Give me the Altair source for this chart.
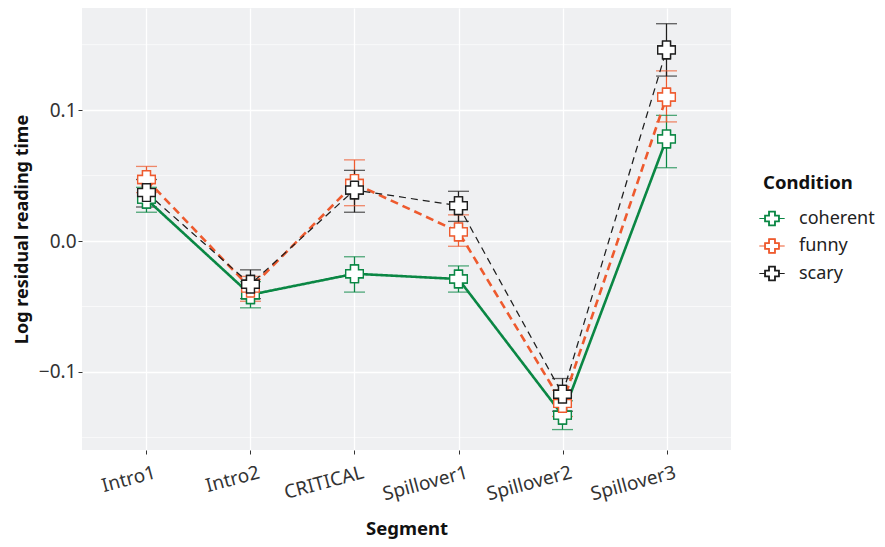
import altair as alt
import pandas as pd

segments = ["Intro1", "Intro2", "CRITICAL", "Spillover1", "Spillover2", "Spillover3"]
conditions = ["coherent", "funny", "scary"]

coherent_mean = [0.032, -0.041, -0.025, -0.029, -0.133, 0.078]
coherent_lo = [0.022, -0.051, -0.039, -0.039, -0.144, 0.056]
coherent_hi = [0.041, -0.031, -0.012, -0.019, -0.122, 0.096]

funny_mean = [0.047, -0.036, 0.044, 0.007, -0.124, 0.110]
funny_lo = [0.037, -0.046, 0.027, -0.004, -0.134, 0.091]
funny_hi = [0.057, -0.027, 0.062, 0.020, -0.114, 0.130]

scary_mean = [0.037, -0.033, 0.039, 0.027, -0.117, 0.146]
scary_lo = [0.026, -0.044, 0.022, 0.015, -0.130, 0.126]
scary_hi = [0.047, -0.022, 0.054, 0.038, -0.105, 0.166]

y_major = [-0.1, 0.0, 0.1]
y_minor = [-0.15, -0.05, 0.05, 0.15]

rows = []
for cond, m, lo, hi in [
    ("coherent", coherent_mean, coherent_lo, coherent_hi),
    ("funny", funny_mean, funny_lo, funny_hi),
    ("scary", scary_mean, scary_lo, scary_hi),
]:
    for s, a, b, c in zip(segments, m, lo, hi):
        rows.append({"Segment": s, "Condition": cond, "mean": a, "lo": b, "hi": c})
df = pd.DataFrame(rows)

FONT = "Noto Sans"
colors = ["#0A8744", "#EE5A2E", "#1E1E1E"]
plus_path = "M-0.45,-1H0.45V-0.45H1V0.45H0.45V1H-0.45V0.45H-1V-0.45H-0.45Z"
# legend key: line through an outlined plus (outer outline + reversed inner outline leaves a hollow centre)
legend_path = (
    "M-1.75,0H-1M1,0H1.75"
    "M-0.45,-1H0.45V-0.45H1V0.45H0.45V1H-0.45V0.45H-1V-0.45H-0.45Z"
    "M-0.37,-0.92V-0.37H-0.92V0.37H-0.37V0.92H0.37V0.37H0.92V-0.37H0.37V-0.92Z"
)

ydom = [-0.1596, 0.178]

x_enc = alt.X(
    "Segment:N",
    sort=segments,
    scale=alt.Scale(type="point", padding=0.62),
    axis=alt.Axis(
        title="Segment",
        labelAngle=345,
        labelAlign="right",
        labelBaseline="top",
        labelPadding=9,
        labelOffset=6,
        labelFontSize=19,
        labelColor="#333333",
        tickColor="#333333",
        tickSize=4,
        domain=False,
        grid=True,
        gridColor="white",
        gridWidth=1.3,
        titleFontSize=18.5,
        titleFontWeight="bold",
        titleColor="#111111",
        titlePadding=16,
    ),
)
y_scale = alt.Scale(domain=ydom, nice=False, zero=False)
stroke_scale = alt.Scale(domain=conditions, range=colors)
stroke_enc = alt.Stroke(
    "Condition:N",
    scale=stroke_scale,
    legend=alt.Legend(
        title="Condition",
        orient="none",
        legendX=681,
        legendY=166,
        titleFontSize=18.5,
        titleFontWeight="bold",
        titleColor="#111111",
        titlePadding=17,
        labelFontSize=18,
        labelColor="#222222",
        labelOffset=18,
        labelLimit=200,
        symbolType=legend_path,
        symbolSize=210,
        symbolStrokeWidth=1.2,
        symbolOpacity=1,
        rowPadding=7.5,
    ),
)

panel = alt.Chart(pd.DataFrame({"v": y_minor})).mark_rule(color="white", strokeWidth=0.6).encode(
    y=alt.Y("v:Q", scale=y_scale,
            axis=alt.Axis(
                title="Log residual reading time",
                values=y_major,
                format=".1f",
                labelFontSize=19,
                labelColor="#333333",
                tickColor="#333333",
                tickSize=4,
                domain=False,
                grid=True,
                gridColor="white",
                gridWidth=1.3,
                titleFontSize=18,
                titleFontWeight="bold",
                titleColor="#111111",
                titlePadding=7,
            ))
)

base = alt.Chart(df)

def point_layer():
    return base.mark_point(shape=plus_path, size=310, filled=False, fill="white", fillOpacity=1,
                           opacity=1, strokeWidth=1.4).encode(
        x=x_enc,
        y=alt.Y("mean:Q", scale=y_scale),
        stroke=stroke_enc,
    )

points_under = point_layer()

bars = base.mark_rule(strokeWidth=1.3).encode(
    x=x_enc,
    y=alt.Y("lo:Q", scale=y_scale),
    y2="hi:Q",
    stroke=stroke_enc,
)
caps_lo = base.mark_tick(orient="horizontal", size=21, thickness=1.3).encode(
    x=x_enc, y=alt.Y("lo:Q", scale=y_scale), color=alt.Color("Condition:N", scale=stroke_scale, legend=None)
)
caps_hi = base.mark_tick(orient="horizontal", size=21, thickness=1.3).encode(
    x=x_enc, y=alt.Y("hi:Q", scale=y_scale), color=alt.Color("Condition:N", scale=stroke_scale, legend=None)
)

line_styles = {"coherent": (2.6, [1, 0]), "funny": (2.6, [8, 5]), "scary": (1.25, [7, 5])}
line_layers = []
for cond in conditions:
    w, dash = line_styles[cond]
    line_layers.append(
        base.transform_filter(alt.datum.Condition == cond)
        .mark_line(strokeWidth=w, strokeDash=dash)
        .encode(x=x_enc, y=alt.Y("mean:Q", scale=y_scale), stroke=stroke_enc)
    )

points = point_layer()

chart = alt.layer(panel, points_under, bars, caps_lo, caps_hi, *line_layers, points).properties(
    width=649,
    height=442,
    autosize=alt.AutoSizeParams(type="none"),
    padding={"left": 74, "top": 0, "right": 146, "bottom": 90},
    background="white",
).configure(font=FONT).configure_view(fill="#EFF0F2", stroke=None)

chart.save("out.html", embed_options={"renderer": "svg", "actions": False})
